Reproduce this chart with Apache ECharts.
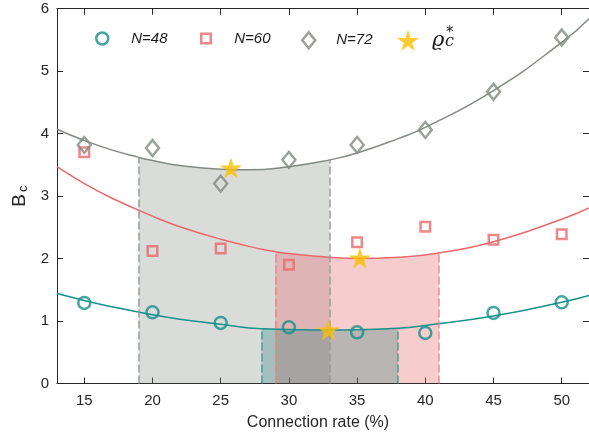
<!DOCTYPE html>
<html><head><meta charset="utf-8">
<script src="https://cdn.jsdelivr.net/npm/echarts@6/dist/echarts.min.js"></script>
<style>html,body{margin:0;padding:0;background:#fff}#c{width:589px;height:441px}</style>
</head><body><div id="c"></div>
<script>
// ---- data ----
const xTicks = [15, 20, 25, 30, 35, 40, 45, 50];
const yTicks = [0, 1, 2, 3, 4, 5, 6];
const rates = [15, 20, 25, 30, 35, 40, 45, 50];
const b48 = [1.29, 1.14, 0.97, 0.90, 0.82, 0.81, 1.13, 1.30];
const b60 = [3.70, 2.12, 2.16, 1.90, 2.26, 2.51, 2.30, 2.39];
const b72 = [3.82, 3.77, 3.20, 3.58, 3.82, 4.06, 4.67, 5.54];
const starX = [32.9, 35.2, 25.75];
const starY = [0.856, 2.01, 3.45];
// fitted curves
const fit48X = [13, 15, 17, 20, 22, 25, 28, 30, 33, 35, 38, 40, 45, 50, 52];
const fit48 = [1.44, 1.33, 1.23, 1.10, 1.03, 0.95, 0.875, 0.865, 0.855, 0.86, 0.885, 0.93, 1.08, 1.30, 1.41];
const fit60X = [13, 15, 17, 20, 22, 25, 28, 29, 30, 33, 35, 38, 41, 45, 50, 52];
const fit60 = [3.47, 3.20, 2.97, 2.68, 2.51, 2.31, 2.15, 2.11, 2.08, 2.02, 2.00, 2.02, 2.09, 2.27, 2.63, 2.81];
const fit72X = [13, 15, 17, 19, 20, 22, 25, 27, 30, 33, 35, 38, 40, 45, 50, 52];
const fit72 = [4.07, 3.89, 3.74, 3.62, 3.57, 3.49, 3.43, 3.42, 3.47, 3.58, 3.69, 3.92, 4.10, 4.69, 5.46, 5.84];
// shaded ranges of connection rate
const band48 = [28, 38];
const band60 = [29, 41];
const band72 = [19, 33];

// ---- styles ----
const teal = '#14908a', red = '#e8696b', gray = '#828a82', gold = '#fdbf00', axisC = '#262626';
const starPath = 'path://M0,-1L0.2245,-0.309L0.951,-0.309L0.363,0.118L0.588,0.809L0,0.382L-0.588,0.809L-0.363,0.118L-0.951,-0.309L-0.2245,-0.309Z';

const pts = (xs, ys) => xs.map((x, i) => [x, ys[i]]);
const within = (p, r) => p.filter(q => q[0] >= r[0] && q[0] <= r[1]);

function bandSeries(curve, range, fill, dash) {
  const d = within(curve, range);
  const a = d[0], b = d[d.length - 1];
  return {
    type: 'line', data: d, smooth: true, symbol: 'none', silent: true, z: 1,
    lineStyle: { width: 0 }, areaStyle: { color: fill, opacity: 1 },
    markLine: {
      silent: true, symbol: ['none', 'none'], label: { show: false }, animation: false,
      lineStyle: { type: [8, 3], width: 1.8, color: dash },
      data: [[{ coord: [a[0], 0] }, { coord: a }], [{ coord: [b[0], 0] }, { coord: b }]]
    }
  };
}
function fitSeries(xs, ys, color) {
  return { type: 'line', data: pts(xs, ys), smooth: true, symbol: 'none', silent: true, z: 3,
    lineStyle: { color, width: 1.5 } };
}
function legendFor(name, left, w, h, pad, keep, color) {
  return {
    data: [{ name, itemStyle: { color: 'rgba(0,0,0,0)', borderColor: color, borderWidth: 2.5 } }],
    left, top: 31, padding: 0, itemWidth: w, itemHeight: h, symbolKeepAspect: keep,
    selectedMode: false,
    textStyle: { fontSize: 15, fontStyle: 'italic', color: '#1a1a1a', fontFamily: 'Liberation Sans', padding: [0, 0, 0, pad] }
  };
}

const chart = echarts.init(document.getElementById('c'));
const xBase = { type: 'value', min: 13, max: 52, splitLine: { show: false } };
const yBase = { type: 'value', min: 0, max: 6, interval: 1, splitLine: { show: false } };

const starLegend = {
  data: ['rho'], left: 397, top: 30, padding: 0, itemWidth: 22, itemHeight: 21, symbolKeepAspect: false,
  selectedMode: false, formatter: () => 'ϱ',
  textStyle: { fontSize: 21, fontStyle: 'italic', fontFamily: 'DejaVu Serif', color: '#1a1a1a', padding: [0, 0, 0, 8] }
};

chart.setOption({
  animation: false,
  grid: { left: 57, right: -1.5, top: 8.7, bottom: 57.5 },
  xAxis: [
    Object.assign({}, xBase, {
      position: 'bottom',
      axisLine: { onZero: false, lineStyle: { color: axisC, width: 1 } },
      axisTick: { inside: true, length: 6, customValues: xTicks, lineStyle: { color: axisC } },
      axisLabel: { customValues: xTicks, fontSize: 15, color: axisC, margin: 10, fontFamily: 'Liberation Sans' },
      name: 'Connection rate (%)', nameLocation: 'middle', nameGap: 31,
      nameTextStyle: { fontSize: 16, color: axisC, fontFamily: 'Liberation Sans', padding: [0, 10, 0, 0] }
    }),
    Object.assign({}, xBase, {
      position: 'top',
      axisLine: { onZero: false, lineStyle: { color: axisC, width: 1 } },
      axisTick: { inside: true, length: 6, customValues: xTicks, lineStyle: { color: axisC } },
      axisLabel: { show: false }
    })
  ],
  yAxis: [
    Object.assign({}, yBase, {
      position: 'left',
      axisLine: { show: true, onZero: false, lineStyle: { color: axisC, width: 1 } },
      axisTick: { show: true, inside: true, length: 6, customValues: yTicks, lineStyle: { color: axisC } },
      axisLabel: { fontSize: 15, color: axisC, margin: 8, fontFamily: 'Liberation Sans' },
      name: '{b|B}{s|c}', nameLocation: 'middle', nameGap: 21, nameRotate: 90,
      nameTextStyle: { color: axisC, rich: {
        b: { fontSize: 19, fontFamily: 'Liberation Sans', color: axisC },
        s: { fontSize: 13, fontFamily: 'Liberation Sans', color: axisC, verticalAlign: 'bottom', padding: [7, 0, 0, 2] }
      } }
    }),
    Object.assign({}, yBase, {
      position: 'right',
      axisLine: { show: true, onZero: false, lineStyle: { color: axisC, width: 1 } },
      axisTick: { show: true, inside: true, length: 6, customValues: yTicks, lineStyle: { color: axisC } },
      axisLabel: { show: false }
    })
  ],
  legend: [
    legendFor('N=48', 95, 12, 12, 18, true, teal),
    legendFor('N=60', 200, 9.5, 9.5, 18.5, true, red),
    legendFor('N=72', 301, 13, 16, 16, false, gray),
    starLegend
  ],
  graphic: [
    { type: 'text', left: 446, top: 26, style: { text: '*', font: '15px "DejaVu Sans"', fill: '#1a1a1a' }, silent: true },
    { type: 'text', left: 445, top: 34, style: { text: 'c', font: 'italic 16px "DejaVu Serif"', fill: '#1a1a1a' }, silent: true }
  ],
  series: [
    bandSeries(pts(fit72X, fit72), band72, 'rgba(135,142,135,0.31)', 'rgba(150,155,150,0.8)'),
    bandSeries(pts(fit60X, fit60), band60, 'rgba(232,100,104,0.33)', 'rgba(238,130,134,0.75)'),
    bandSeries(pts(fit48X, fit48), band48, 'rgba(20,120,115,0.27)', 'rgba(60,150,145,0.75)'),
    fitSeries(fit48X, fit48, teal),
    fitSeries(fit60X, fit60, red),
    fitSeries(fit72X, fit72, gray),
    { type: 'scatter', name: 'N=48', data: pts(rates, b48), symbol: 'circle', symbolSize: 12, z: 4, silent: true,
      itemStyle: { color: 'rgba(0,0,0,0)', borderColor: teal, borderWidth: 2.5 } },
    { type: 'scatter', name: 'N=60', data: pts(rates, b60), symbol: 'rect', symbolSize: 9.5, z: 4, silent: true,
      itemStyle: { color: 'rgba(0,0,0,0)', borderColor: red, borderWidth: 2.5 } },
    { type: 'scatter', name: 'N=72', data: pts(rates, b72), symbol: 'diamond', symbolSize: [13, 16], z: 4, silent: true,
      itemStyle: { color: 'rgba(0,0,0,0)', borderColor: gray, borderWidth: 2.5 } },
    { type: 'scatter', name: 'rho', data: pts(starX, starY), symbol: starPath, symbolSize: [22, 21], z: 5, silent: true,
      itemStyle: { color: gold } }
  ]
});
</script></body></html>
